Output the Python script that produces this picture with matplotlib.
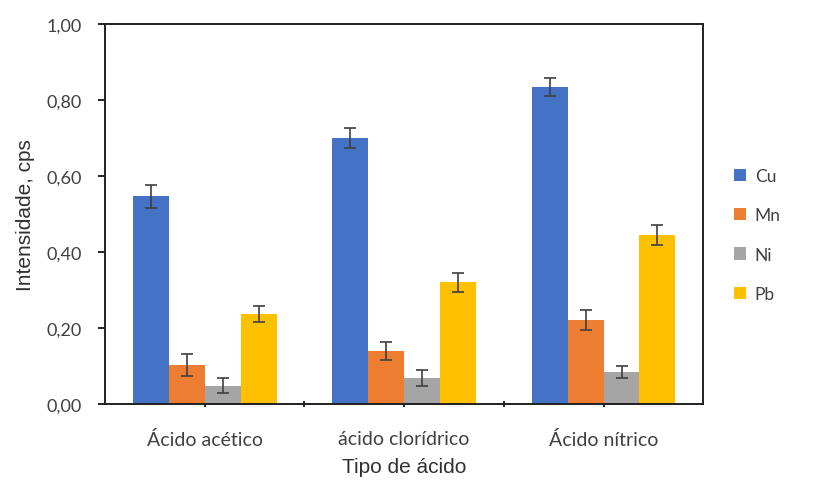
import numpy as np
import matplotlib.pyplot as plt
from matplotlib.ticker import FuncFormatter, FixedLocator

categorias = ["Ácido acético", "ácido clorídrico", "Ácido nítrico"]
elementos = ["Cu", "Mn", "Ni", "Pb"]
cu = [0.547, 0.700, 0.834]
mn = [0.103, 0.139, 0.221]
ni = [0.048, 0.068, 0.084]
pb = [0.237, 0.320, 0.445]
cu_err = [0.030, 0.027, 0.024]
mn_err = [0.028, 0.024, 0.026]
ni_err = [0.020, 0.021, 0.016]
pb_err = [0.022, 0.025, 0.026]
colores = ["#4472C4", "#ED7D31", "#A5A5A5", "#FFC000"]

valores = [cu, mn, ni, pb]
errores = [cu_err, mn_err, ni_err, pb_err]

fig = plt.figure(figsize=(8.14, 4.81), dpi=100)
ax = fig.add_axes([0.129, 0.158, 0.735, 0.79])

x = np.arange(len(categorias))
ancho = 0.18
for i, (v, e) in enumerate(zip(valores, errores)):
    pos = x + (i - 1.5) * ancho
    ax.bar(pos, v, width=ancho, color=colores[i], label=elementos[i], zorder=2)
    ax.errorbar(pos, v, yerr=e, fmt="none", ecolor="#404040", elinewidth=1.2,
                capsize=4, capthick=1.2, zorder=3)

ax.set_xlim(-0.5, 2.5)
ax.set_ylim(0, 1.0)
ax.set_yticks(np.arange(0, 1.01, 0.2))
ax.yaxis.set_major_formatter(FuncFormatter(lambda v, p: f"{v:.2f}".replace(".", ",")))
ax.set_xticks(x)
ax.set_xticklabels(categorias)
ax.xaxis.set_minor_locator(FixedLocator([0.5, 1.5]))
ax.tick_params(axis="x", which="both", length=5, width=1.2, direction="inout", pad=16)
ax.tick_params(axis="y", length=5, width=1.2, direction="out", pad=12)
for lab in ax.get_xticklabels():
    lab.set_fontfamily("Lato")
    lab.set_fontsize(14)
    lab.set_color("#404040")
for lab in ax.get_yticklabels():
    lab.set_fontfamily("Lato")
    lab.set_fontsize(13)
    lab.set_color("#404040")
for s in ax.spines.values():
    s.set_linewidth(1.4)
    s.set_color("#202020")

ax.set_xlabel("Tipo de ácido", fontsize=15, family="Liberation Sans", color="#303030", labelpad=7)
ax.set_ylabel("Intensidade, cps", fontsize=15, family="Liberation Sans", color="#303030", labelpad=8)

leg = ax.legend(loc="center left", bbox_to_anchor=(1.025, 0.445), frameon=False,
                handlelength=0.7, handleheight=0.7, handletextpad=0.5,
                labelspacing=1.35, prop={"family": "Lato", "size": 12.5})
for t in leg.get_texts():
    t.set_color("#404040")

fig.savefig("out.png", dpi=100)
